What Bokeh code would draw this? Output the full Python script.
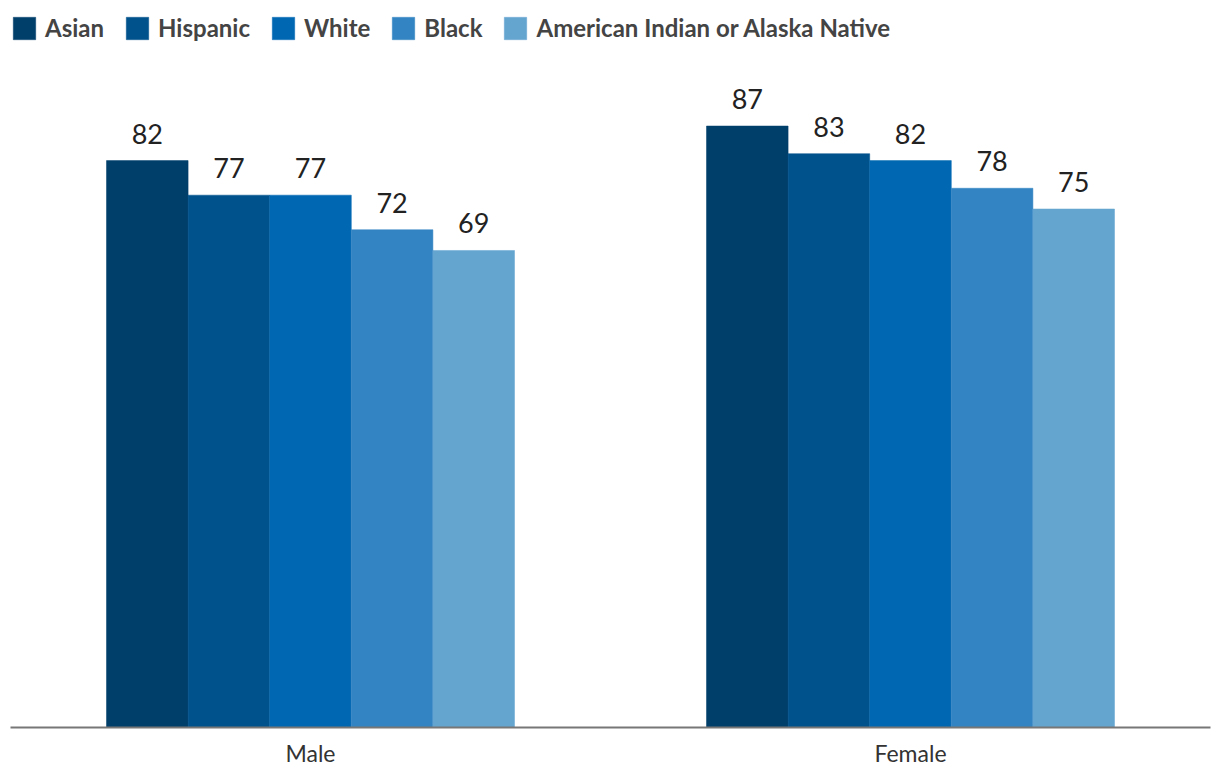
from bokeh.plotting import figure
from bokeh.models import ColumnDataSource, FactorRange, Range1d, Legend, LegendItem
from bokeh.transform import dodge
from bokeh.core.properties import value
from bokeh.embed import file_html
from bokeh.resources import INLINE

genders = ["Male", "Female"]
races = ["Asian", "Hispanic", "White", "Black", "American Indian or Alaska Native"]
asian = [82, 87]
hispanic = [77, 83]
white = [77, 82]
black = [72, 78]
aian = [69, 75]
series = [asian, hispanic, white, black, aian]
colors = ["#003F6A", "#00528D", "#0068B2", "#3384C2", "#64A5D0"]

p = figure(x_range=FactorRange(*genders, range_padding=0), y_range=Range1d(0, 104.0),
           frame_width=1200, frame_height=719, output_backend="svg",
           toolbar_location=None, y_axis_location=None,
           min_border_left=10, min_border_right=2, min_border_top=8, min_border_bottom=40)
p.outline_line_color = None
p.xgrid.visible = False
p.ygrid.visible = False

bw = 0.136
items = []
for i, (name, vals, c) in enumerate(zip(races, series, colors)):
    off = (i - 2) * bw
    src = ColumnDataSource(dict(x=genders, top=vals, lab=[str(v) for v in vals]))
    r = p.vbar(x=dodge("x", off, range=p.x_range), top="top", width=bw, source=src,
               fill_color=c, line_color=c, line_width=0.5)
    p.text(x=dodge("x", off, range=p.x_range), y="top", text="lab", source=src,
           text_align="center", text_baseline="bottom", y_offset=-17,
           text_font=value("Lato"), text_font_size="27px", text_color="#222222")
    items.append(LegendItem(label=name, renderers=[r]))

legend = Legend(items=items, orientation="horizontal", location=(0, 685),
                glyph_width=28, glyph_height=28, label_standoff=7, spacing=19,
                padding=0, margin=0, border_line_color=None, background_fill_alpha=0,
                label_text_font="Lato", label_text_font_style="bold",
                label_text_font_size="24px", label_text_color="#444444")
p.add_layout(legend)

ax = p.xaxis[0]
ax.axis_line_color = "#777777"
ax.axis_line_width = 2
ax.major_tick_line_color = None
ax.minor_tick_line_color = None
ax.major_label_text_font = "Lato"
ax.major_label_text_font_size = "23px"
ax.major_label_text_color = "#333333"
ax.major_label_standoff = 5

open("out.html", "w").write(file_html(p, INLINE))
